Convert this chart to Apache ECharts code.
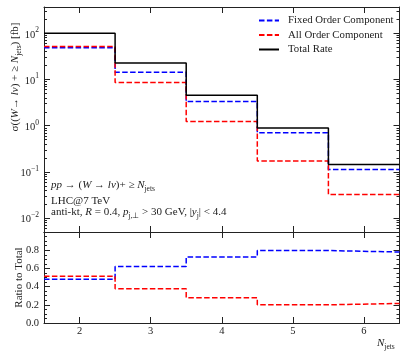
<!DOCTYPE html>
<html><head><meta charset="utf-8">
<script src="https://cdn.jsdelivr.net/npm/echarts@6/dist/echarts.min.js"></script>
<style>html,body{margin:0;padding:0;background:#fff}#c{width:407px;height:356px}</style>
</head><body><div id="c"></div>
<script>
// ---- data ----
const binEdges = [1.5, 2.5, 3.5, 4.5, 5.5, 6.5];
const totalRate = [100, 22.8, 4.58, 0.887, 0.145];
const fixedOrder = [48.5, 14.3, 3.32, 0.703, 0.112];
const allOrder = [51.5, 8.57, 1.23, 0.172, 0.0323];
const ratioFixed = [0.48, 0.622, 0.725, 0.796, 0.78];
const ratioAll = [0.515, 0.376, 0.278, 0.2, 0.215];
const xTicks = [2, 3, 4, 5, 6];
const logMajor = [0.01, 0.1, 1, 10, 100];

function stepData(vals) {
  const d = vals.map((v, i) => [binEdges[i], v]);
  d.push([binEdges[binEdges.length - 1], vals[vals.length - 1]]);
  return d;
}
const logMinor = [];
[0.001, 0.01, 0.1, 1, 10, 100].forEach(b => { for (let k = 2; k <= 9; k++) { const v = b * k; if (v > 0.005 && v < 370) logMinor.push(v); } });

const FONT = 'Liberation Serif';
const AX = '#222';
const chart = echarts.init(document.getElementById('c'), null, {renderer: 'canvas'});

function xAx(grid, pos, labels) {
  return {
    type: 'value', gridIndex: grid, position: pos, min: 1.5, max: 6.5,
    axisLine: {show: true, onZero: false, lineStyle: {color: AX, width: 1}},
    axisTick: {show: true, inside: true, length: 6, customValues: xTicks, lineStyle: {color: AX}},
    axisLabel: labels ? {show: true, customValues: xTicks, fontFamily: FONT, fontSize: 10.5, color: '#222', margin: 3} : {show: false},
    splitLine: {show: false}
  };
}
function logAx(pos, major, withLabels, withLine) {
  return {
    type: 'log', logBase: 10, gridIndex: 0, position: pos, min: 0.005, max: 370,
    axisLine: {show: withLine, onZero: false, lineStyle: {color: AX, width: 1}},
    axisTick: {show: true, inside: true, length: major ? 6 : 3, customValues: major ? logMajor : logMinor, lineStyle: {color: AX}},
    axisLabel: withLabels ? {
      show: true, customValues: logMajor, margin: 5,
      formatter: (v) => { const e = Math.round(Math.log10(v)); return '{b|10}{s|' + (e < 0 ? '−' + (-e) : e) + '}'; },
      rich: {
        b: {fontFamily: FONT, fontSize: 10.5, color: '#222', verticalAlign: 'bottom', lineHeight: 14},
        s: {fontFamily: FONT, fontSize: 7.5, color: '#222', verticalAlign: 'top', lineHeight: 14}
      }
    } : {show: false},
    splitLine: {show: false}
  };
}
function ratioAx(pos, labels) {
  return {
    type: 'value', gridIndex: 1, position: pos, min: 0, max: 1.0, interval: 0.2,
    axisLine: {show: true, onZero: false, lineStyle: {color: AX, width: 1}},
    axisTick: {show: true, inside: true, length: 6, lineStyle: {color: AX}},
    minorTick: {show: true, splitNumber: 4, length: 3, lineStyle: {color: AX}},
    axisLabel: labels ? {show: true, fontFamily: FONT, fontSize: 10.5, color: '#222', margin: 5,
      formatter: v => (v > 0.95 ? '' : v.toFixed(1))} : {show: false},
    splitLine: {show: false}, minorSplitLine: {show: false}
  };
}
const annoRich = {
  i: {fontStyle: 'italic', fontFamily: FONT, fontSize: 11, fill: '#222'},
  s: {fontFamily: FONT, fontSize: 7.5, fill: '#222', verticalAlign: 'bottom', lineHeight: 16}
};
function anno(text, left, top) {
  return {type: 'text', left: left, top: top, style: {text: text, font: '11px ' + FONT, fill: '#222', rich: annoRich}};
}

const dash = [5.5, 2.4];
const option = {
  animation: false,
  backgroundColor: '#fff',
  grid: [
    {left: 44, right: 7.5, top: 7, height: 225, containLabel: false, outerBoundsMode: 'none'},
    {left: 44, right: 7.5, top: 232, height: 91, containLabel: false, outerBoundsMode: 'none'}
  ],
  xAxis: [xAx(0, 'bottom', false), xAx(0, 'top', false), xAx(1, 'bottom', true), xAx(1, 'top', false)],
  yAxis: [
    logAx('left', true, true, true),
    logAx('left', false, false, false),
    logAx('right', true, false, true),
    logAx('right', false, false, false),
    Object.assign(ratioAx('left', true), {
      name: 'Ratio to Total', nameLocation: 'middle', nameGap: 19, nameMoveOverlap: false,
      nameTextStyle: {fontFamily: FONT, fontSize: 11, color: '#222'}
    }),
    ratioAx('right', false)
  ],
  legend: {
    data: ['Fixed Order Component', 'All Order Component', 'Total Rate'],
    orient: 'vertical', left: 258, top: 15, padding: 0, itemWidth: 20, itemHeight: 10, itemGap: 3.5,
    itemStyle: {opacity: 0},
    textStyle: {fontFamily: FONT, fontSize: 10.8, color: '#222', lineHeight: 10, padding: [0, 0, 0, 4]}
  },
  series: [
    {name: 'Fixed Order Component', type: 'line', step: 'end', xAxisIndex: 0, yAxisIndex: 0, symbol: 'none',
      data: stepData(fixedOrder), lineStyle: {color: '#0000ff', width: 1.5, type: dash}, itemStyle: {color: '#0000ff'}},
    {name: 'All Order Component', type: 'line', step: 'end', xAxisIndex: 0, yAxisIndex: 0, symbol: 'none',
      data: stepData(allOrder), lineStyle: {color: '#ff0000', width: 1.5, type: dash}, itemStyle: {color: '#ff0000'}},
    {name: 'Total Rate', type: 'line', step: 'end', xAxisIndex: 0, yAxisIndex: 0, symbol: 'none',
      data: stepData(totalRate), lineStyle: {color: '#000', width: 1.5}, itemStyle: {color: '#000'}},
    {name: 'ratio fixed', type: 'line', step: 'end', xAxisIndex: 2, yAxisIndex: 4, symbol: 'none',
      data: stepData(ratioFixed), lineStyle: {color: '#0000ff', width: 1.5, type: dash}},
    {name: 'ratio all', type: 'line', step: 'end', xAxisIndex: 2, yAxisIndex: 4, symbol: 'none',
      data: stepData(ratioAll), lineStyle: {color: '#ff0000', width: 1.5, type: dash}}
  ],
  graphic: [
    {type: 'text', x: 15, y: 77, rotation: Math.PI / 2, style: {
      text: 'σ(({i|W}→ {i|lν}) + ≥ {i|N}{s|jets}) [fb]',
      font: '11px ' + FONT, fill: '#222', align: 'center', verticalAlign: 'middle', rich: annoRich
    }},
    anno('{i|pp }→ ({i|W }→ {i|lν})+ ≥ {i|N}{s|jets}', 51, 180),
    anno('LHC@7 TeV', 51, 196),
    anno('anti-kt, {i|R} = 0.4, {i|p}{s|j,⊥} > 30 GeV, |{i|y}{s|j}| < 4.4', 51, 207),
    {type: 'text', left: 377, top: 338, style: {
      text: '{i|N}{s|jets}', fill: '#222', rich: annoRich
    }}
  ]
};
chart.setOption(option);
</script></body></html>
